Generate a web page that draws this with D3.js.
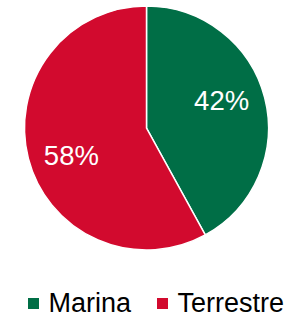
<!DOCTYPE html>
<html>
<head>
<meta charset="utf-8">
<style> body { margin: 0; background: #fff; } text { font-family: "Liberation Sans", Arial, sans-serif; } </style>
<script src="https://d3js.org/d3.v7.min.js"></script>
</head>
<body>
<div id="chart"></div>
<script>
var categories = ["Marina", "Terrestre"];
var values = [42, 58];
var colors = ["#006E46", "#D20A2E"];

var W = 302, H = 316;
var cx = 146.5, cy = 128, r = 122;

var svg = d3.select("#chart").append("svg")
    .attr("width", W)
    .attr("height", H);

var pie = d3.pie().sort(null).value(d => d.value);
var data = pie(categories.map((c, i) => ({ name: c, value: values[i], color: colors[i] })));

var arc = d3.arc().innerRadius(0).outerRadius(r);
// labels sit a bit before the slice middle, like the original
var labelArc = d3.arc().innerRadius(80).outerRadius(80);

var g = svg.append("g").attr("transform", `translate(${cx},${cy})`);

g.selectAll("path")
    .data(data)
    .enter()
    .append("path")
    .attr("d", arc)
    .attr("fill", d => d.data.color)
    .attr("stroke", "#fff")
    .attr("stroke-width", 1.5);

g.selectAll(".lbl")
    .data(data)
    .enter()
    .append("text")
    .attr("class", "lbl")
    .attr("transform", d => {
        var c = labelArc.centroid({ startAngle: d.startAngle - 0.1, endAngle: d.endAngle - 0.1 });
        return `translate(${c[0]},${c[1]})`;
    })
    .attr("text-anchor", "middle")
    .attr("dy", "0.35em")
    .attr("fill", "#fff")
    .attr("font-size", 27.5)
    .text(d => d.data.value + "%");

// legend
var legendX = [28, 157];
var leg = svg.append("g");
var item = leg.selectAll("g")
    .data(categories)
    .enter()
    .append("g")
    .attr("transform", (d, i) => `translate(${legendX[i]},298)`);

item.append("rect")
    .attr("width", 11)
    .attr("height", 11)
    .attr("fill", (d, i) => colors[i]);

item.append("text")
    .attr("x", 20.5)
    .attr("y", 13.5)
    .attr("font-size", 27)
    .attr("fill", "#000")
    .text(d => d);
</script>
</body>
</html>
